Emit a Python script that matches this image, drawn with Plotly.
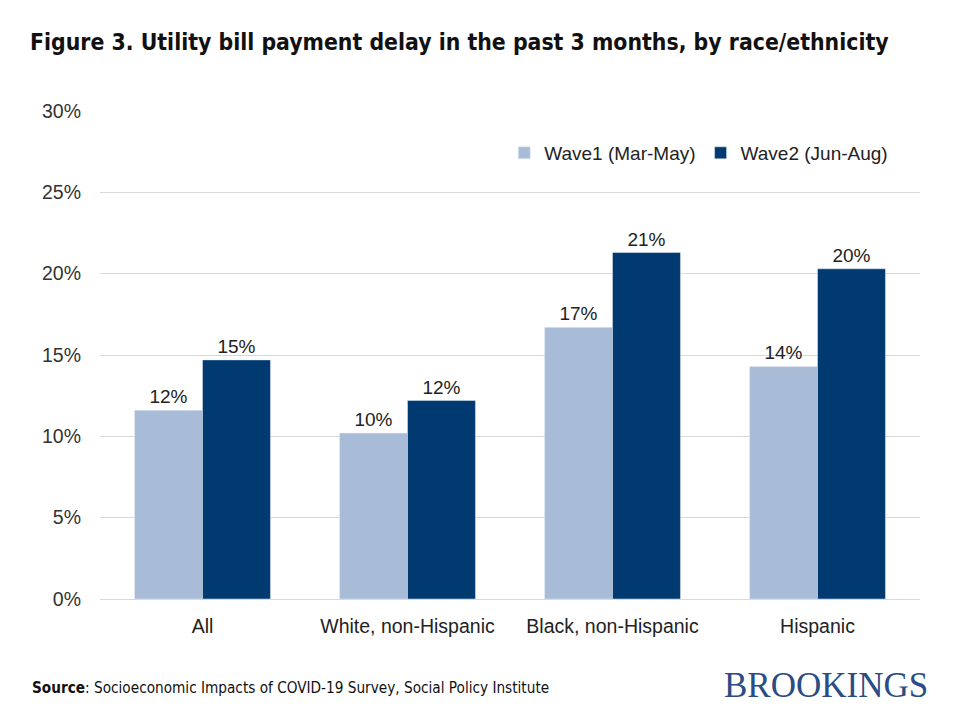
import plotly.graph_objects as go

categories = ["All", "White, non-Hispanic", "Black, non-Hispanic", "Hispanic"]
wave1 = [11.6, 10.2, 16.7, 14.3]
wave2 = [14.7, 12.2, 21.3, 20.3]
series_names = ["Wave1 (Mar-May)", "Wave2 (Jun-Aug)"]
y_ticks = [0, 5, 10, 15, 20, 25, 30]
y_tick_labels = [f"{t}%" for t in y_ticks]

colors = ["#A8BCD7", "#003A70"]
font_main = "Liberation Sans, Arial, sans-serif"
font_cond = "Liberation Sans Narrow, DejaVu Sans Condensed, Arial Narrow, sans-serif"

fig = go.Figure()
for name, vals, col in zip(series_names, [wave1, wave2], colors):
    fig.add_trace(go.Bar(
        x=categories, y=vals, name=name, marker_color=col,
        text=[f"{v:.0f}%" for v in vals], textposition="outside",
        textfont=dict(size=19, color="#222222", family=font_main),
        cliponaxis=False,
    ))

fig.update_layout(
    width=960, height=720,
    paper_bgcolor="white", plot_bgcolor="white",
    margin=dict(l=92, r=48, t=103, b=129),
    barmode="group", bargap=0.337, bargroupgap=0,
    font=dict(family=font_main, size=19, color="#222222"),
    showlegend=True,
    legend=dict(orientation="h", x=0.493, y=0.914, xanchor="left", yanchor="middle",
                font=dict(size=19, color="#222222"), bgcolor="rgba(0,0,0,0)",
                traceorder="normal"),
    title=dict(text="<b>Figure 3. Utility bill payment delay in the past 3 months, by race/ethnicity</b>",
               x=0.0229, xanchor="left", y=0.953, yanchor="middle",
               font=dict(family=font_cond, size=22.8, color="#111111")),
)
fig.update_yaxes(range=[0, 30], tickvals=y_ticks, ticktext=y_tick_labels,
                 showgrid=True, gridcolor="#D9D9D9", gridwidth=1, zeroline=False,
                 showline=False, ticks="", ticklabelstandoff=18,
                 tickfont=dict(size=19.5, color="#333333"))
fig.update_xaxes(showline=True, linecolor="#D9D9D9", linewidth=1, ticks="",
                 ticklabelstandoff=10,
                 tickfont=dict(size=19.5, color="#222222"))

fig.add_annotation(text="<b>Source</b>: Socioeconomic Impacts of COVID-19 Survey, Social Policy Institute",
                   xref="paper", yref="paper", x=-0.0854, y=-0.182, xanchor="left", yanchor="middle",
                   showarrow=False, font=dict(family=font_cond, size=15.2, color="#111111"))
fig.add_annotation(text="BROOKINGS", xref="paper", yref="paper", x=1.012, y=-0.178,
                   xanchor="right", yanchor="middle", showarrow=False,
                   font=dict(family="Liberation Serif, DejaVu Serif, serif", size=35, color="#2B4C85"))

fig.write_html("out.html")
